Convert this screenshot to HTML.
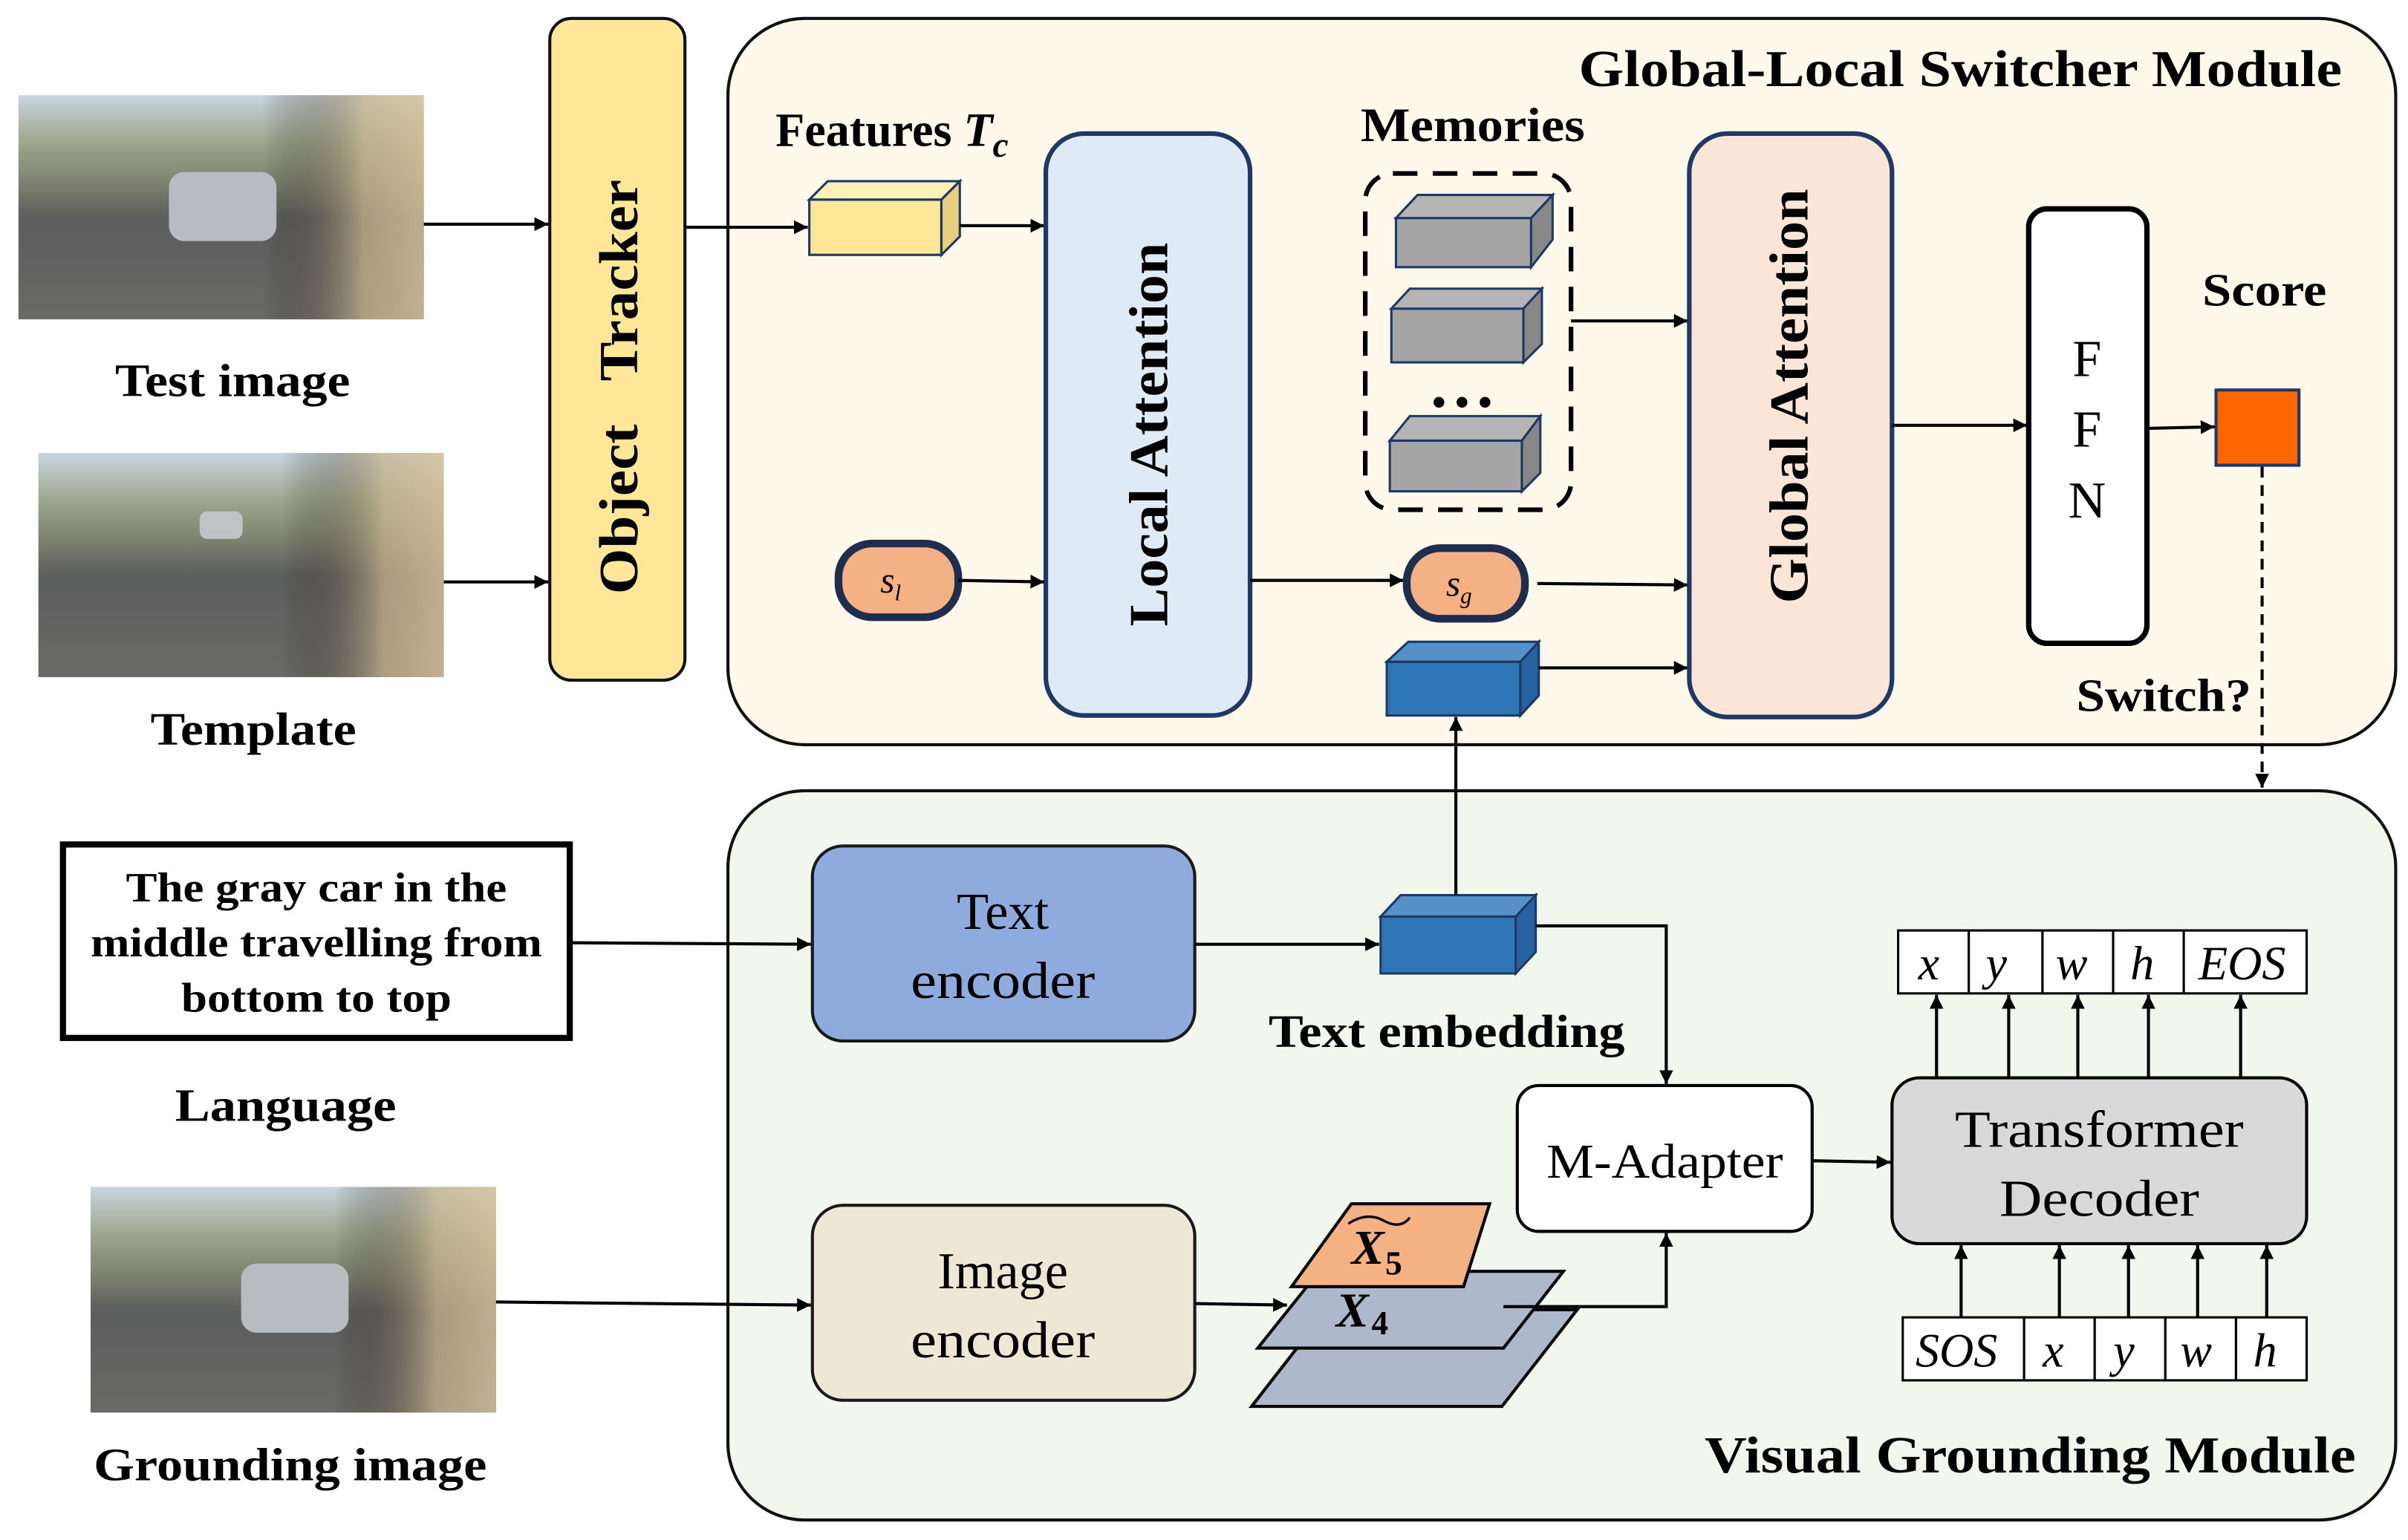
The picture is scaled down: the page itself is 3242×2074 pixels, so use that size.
<!DOCTYPE html>
<html><head><meta charset="utf-8"><style>
html,body{margin:0;padding:0;background:#fff}
svg{display:block}
text{font-family:"Liberation Serif",serif}
.b{font-weight:bold}
</style></head><body>
<svg width="3242" height="2074" viewBox="0 0 1568 1003" preserveAspectRatio="none" xmlns="http://www.w3.org/2000/svg">
<defs>
<marker id="a" viewBox="0 0 10 10" refX="10" refY="5" markerWidth="9" markerHeight="9" orient="auto" markerUnits="userSpaceOnUse"><path d="M0,0 L10,5 L0,10 z" fill="#000"/></marker>
<linearGradient id="ph" x1="0" y1="0" x2="0" y2="1">
<stop offset="0" stop-color="#c9d6de"/><stop offset="0.22" stop-color="#9aa58a"/><stop offset="0.4" stop-color="#7c7f6e"/><stop offset="0.55" stop-color="#5c5d5d"/><stop offset="1" stop-color="#6a6a68"/></linearGradient>
<linearGradient id="ph2" x1="0" y1="0" x2="1" y2="0">
<stop offset="0" stop-color="#000" stop-opacity="0"/><stop offset="0.6" stop-color="#000" stop-opacity="0"/><stop offset="0.85" stop-color="#c9b48e" stop-opacity="0.7"/><stop offset="1" stop-color="#d8c29a" stop-opacity="0.8"/></linearGradient>
</defs>
<rect width="1568" height="1003" fill="#fff"/>

<rect x="474" y="12" width="1086" height="473" rx="50" fill="#FFF9EC" stroke="#111" stroke-width="2"/>
<rect x="474" y="515" width="1086" height="475" rx="50" fill="#F2F7EE" stroke="#111" stroke-width="2"/>
<text x="1028" y="56" font-size="34" class="b" textLength="497" lengthAdjust="spacingAndGlyphs">Global-Local Switcher Module</text>
<text x="1110" y="959" font-size="34" class="b" textLength="424" lengthAdjust="spacingAndGlyphs">Visual Grounding Module</text>

<rect x="12" y="62" width="264" height="146" fill="url(#ph)"/><rect x="12" y="62" width="264" height="146" fill="url(#ph2)"/>
<rect x="110" y="112" width="70" height="45" rx="10" fill="#b8bcc0"/>
<rect x="25" y="295" width="264" height="146" fill="url(#ph)"/><rect x="25" y="295" width="264" height="146" fill="url(#ph2)"/>
<rect x="130" y="333" width="28" height="18" rx="5" fill="#c0c3c6"/>
<rect x="59" y="773" width="264" height="147" fill="url(#ph)"/><rect x="59" y="773" width="264" height="147" fill="url(#ph2)"/>
<rect x="157" y="823" width="70" height="45" rx="10" fill="#b8bcc0"/>

<text x="75" y="258" font-size="30" class="b" textLength="153" lengthAdjust="spacingAndGlyphs">Test image</text>
<text x="98" y="485" font-size="30" class="b" textLength="134" lengthAdjust="spacingAndGlyphs">Template</text>
<text x="114" y="730" font-size="30" class="b" textLength="144" lengthAdjust="spacingAndGlyphs">Language</text>
<text x="61" y="964" font-size="30" class="b" textLength="256" lengthAdjust="spacingAndGlyphs">Grounding image</text>

<rect x="358" y="12" width="88" height="431" rx="14" fill="#FFE699" stroke="#111" stroke-width="2"/>
<text transform="translate(415,387) rotate(-90)" font-size="36" class="b" textLength="270" lengthAdjust="spacingAndGlyphs" xml:space="preserve">Object   Tracker</text>
<line x1="276" y1="146" x2="357" y2="146" stroke="#000" stroke-width="2" marker-end="url(#a)"/>
<line x1="289" y1="379" x2="357" y2="379" stroke="#000" stroke-width="2" marker-end="url(#a)"/>
<line x1="446" y1="148" x2="526" y2="148" stroke="#000" stroke-width="2" marker-end="url(#a)"/>

<text x="505" y="95" font-size="31" class="b">Features <tspan font-style="italic">T</tspan><tspan font-style="italic" font-size="23" dy="7">c</tspan></text>
<g stroke="#1F3864" stroke-width="1.5">
<rect x="527" y="130" width="86" height="36" fill="#FFE699"/>
<path d="M527,130 L539,118 L625,118 L613,130z" fill="#FFEFB8"/>
<path d="M613,130 L625,118 L625,154 L613,166z" fill="#E8CF7E"/>
</g>
<line x1="625" y1="147" x2="680" y2="147" stroke="#000" stroke-width="2" marker-end="url(#a)"/>

<rect x="681" y="87" width="133" height="379" rx="25" fill="#DEEBF7" stroke="#1F3864" stroke-width="3"/>
<text transform="translate(760,408) rotate(-90)" font-size="36" class="b" textLength="250" lengthAdjust="spacingAndGlyphs">Local Attention</text>

<rect x="546" y="354" width="78" height="48" rx="22" fill="#F4B183" stroke="#1F2D4E" stroke-width="5"/>
<text x="580" y="386" font-size="24" font-style="italic" text-anchor="middle">s<tspan font-size="15" dy="5">l</tspan></text>
<line x1="624" y1="378" x2="680" y2="379" stroke="#000" stroke-width="2" marker-end="url(#a)"/>
<line x1="814" y1="378" x2="914" y2="378" stroke="#000" stroke-width="2" marker-end="url(#a)"/>

<text x="886" y="92" font-size="31" class="b" textLength="146" lengthAdjust="spacingAndGlyphs">Memories</text>
<rect x="889" y="113" width="134" height="219" rx="18" fill="none" stroke="#000" stroke-width="3" stroke-dasharray="16,10"/>
<g stroke="#1F3864" stroke-width="1.5">
<rect x="909" y="142" width="88" height="32" fill="#A5A5A5"/><path d="M909,142 L923,127 L1011,127 L997,142z" fill="#B5B5B5"/><path d="M997,142 L1011,127 L1011,156 L997,174z" fill="#888"/>
<rect x="906" y="201" width="86" height="35" fill="#A5A5A5"/>
<path d="M906,201 L918,188 L1004,188 L992,201z" fill="#B5B5B5"/><path d="M992,201 L1004,188 L1004,224 L992,236z" fill="#888"/>
<rect x="905" y="287" width="86" height="33" fill="#A5A5A5"/><path d="M905,287 L918,271 L1003,271 L991,287z" fill="#B5B5B5"/><path d="M991,287 L1003,271 L1003,308 L991,320z" fill="#888"/>
</g>
<circle cx="937" cy="262" r="3.5"/><circle cx="952" cy="262" r="3.5"/><circle cx="967" cy="262" r="3.5"/>
<line x1="1023" y1="209" x2="1099" y2="209" stroke="#000" stroke-width="2" marker-end="url(#a)"/>

<rect x="916" y="357" width="77" height="46" rx="22" fill="#F4B183" stroke="#1F2D4E" stroke-width="5"/>
<text x="950" y="388" font-size="24" font-style="italic" text-anchor="middle">s<tspan font-size="15" dy="5">g</tspan></text>
<line x1="1001" y1="380" x2="1099" y2="381" stroke="#000" stroke-width="2" marker-end="url(#a)"/>

<g stroke="#1F3864" stroke-width="1.5">
<rect x="903" y="431" width="87" height="35" fill="#2E75B6"/><path d="M903,431 L917,418 L1002,418 L990,431z" fill="#5590C8"/><path d="M990,431 L1002,418 L1002,453 L990,466z" fill="#2662A0"/>
</g>
<line x1="1002" y1="435" x2="1099" y2="435" stroke="#000" stroke-width="2" marker-end="url(#a)"/>

<rect x="1100" y="87" width="132" height="380" rx="25" fill="#FBE5D6" stroke="#1F3864" stroke-width="3"/>
<text transform="translate(1177,393) rotate(-90)" font-size="36" class="b" textLength="270" lengthAdjust="spacingAndGlyphs">Global Attention</text>
<line x1="1232" y1="277" x2="1320" y2="277" stroke="#000" stroke-width="2" marker-end="url(#a)"/>

<rect x="1321" y="136" width="77" height="283" rx="12" fill="#fff" stroke="#000" stroke-width="3.5"/>
<text x="1359" y="245" font-size="34" text-anchor="middle">F</text>
<text x="1359" y="291" font-size="34" text-anchor="middle">F</text>
<text x="1359" y="337" font-size="34" text-anchor="middle">N</text>
<line x1="1398" y1="279" x2="1442" y2="278" stroke="#000" stroke-width="2" marker-end="url(#a)"/>
<text x="1434" y="199" font-size="30" class="b" textLength="81" lengthAdjust="spacingAndGlyphs">Score</text>
<rect x="1443" y="254" width="54" height="49" fill="#FF6600" stroke="#1F3864" stroke-width="2"/>
<text x="1352" y="463" font-size="30" class="b" textLength="114" lengthAdjust="spacingAndGlyphs">Switch?</text>
<line x1="1473" y1="304" x2="1473" y2="513" stroke="#000" stroke-width="2" stroke-dasharray="7,5" marker-end="url(#a)"/>

<rect x="41" y="550" width="330" height="126" fill="#fff" stroke="#000" stroke-width="4"/>
<text x="82" y="587" font-size="27" class="b" textLength="248" lengthAdjust="spacingAndGlyphs">The gray car in the</text>
<text x="59" y="623" font-size="27" class="b" textLength="294" lengthAdjust="spacingAndGlyphs">middle travelling from</text>
<text x="118" y="659" font-size="27" class="b" textLength="176" lengthAdjust="spacingAndGlyphs">bottom to top</text>
<line x1="371" y1="614" x2="528" y2="615" stroke="#000" stroke-width="2" marker-end="url(#a)"/>

<rect x="529" y="551" width="249" height="127" rx="20" fill="#8FAADC" stroke="#1a1a1a" stroke-width="2"/>
<text x="653" y="605" font-size="34" text-anchor="middle">Text</text>
<text x="653" y="650" font-size="34" text-anchor="middle" textLength="120" lengthAdjust="spacingAndGlyphs">encoder</text>
<line x1="778" y1="615" x2="898" y2="615" stroke="#000" stroke-width="2" marker-end="url(#a)"/>

<g stroke="#1F3864" stroke-width="1.5">
<rect x="899" y="597" width="88" height="37" fill="#2E75B6"/><path d="M899,597 L912,583 L1000,583 L987,597z" fill="#5590C8"/><path d="M987,597 L1000,583 L1000,620 L987,634z" fill="#2662A0"/>
</g>
<text x="826" y="682" font-size="30" class="b" textLength="232" lengthAdjust="spacingAndGlyphs">Text embedding</text>
<line x1="948" y1="583" x2="948" y2="467" stroke="#000" stroke-width="2" marker-end="url(#a)"/>
<polyline points="1000,603 1085,603 1085,706" fill="none" stroke="#000" stroke-width="2" marker-end="url(#a)"/>

<rect x="529" y="785" width="249" height="127" rx="20" fill="#EDE7D6" stroke="#1a1a1a" stroke-width="2"/>
<text x="653" y="839" font-size="34" text-anchor="middle">Image</text>
<text x="653" y="884" font-size="34" text-anchor="middle" textLength="120" lengthAdjust="spacingAndGlyphs">encoder</text>
<line x1="323" y1="848" x2="528" y2="850" stroke="#000" stroke-width="2" marker-end="url(#a)"/>
<line x1="778" y1="849" x2="838" y2="850" stroke="#000" stroke-width="2" marker-end="url(#a)"/>

<g stroke="#000" stroke-width="2">
<polygon points="815,916 978,916 1027,853 864,853" fill="#ADB9CA"/>
<polygon points="819,878 979,878 1018,828 859,828" fill="#ADB9CA"/>
<polygon points="841,838 953,838 970,784 880,784" fill="#F4B183"/>
</g>
<polygon points="841,838 953,838 970,784 880,784" fill="#F4B183" stroke="#000" stroke-width="2" transform="translate(0,0)" opacity="0"/>
<polygon points="841,838 952,838 999,784 883,784" fill="#F4B183" stroke="#000" stroke-width="2" transform="translate(-30,0)" opacity="0"/>
<text x="880" y="823" font-size="32" font-style="italic" class="b">X</text>
<text x="902" y="830" font-size="22" class="b">5</text>
<path d="M878,797 Q890,789 901,795 T918,793" fill="none" stroke="#000" stroke-width="1.6"/>
<text x="870" y="864" font-size="32" font-style="italic" class="b">X</text>
<text x="893" y="869" font-size="22" class="b">4</text>
<polyline points="979,851 1085,851 1085,803" fill="none" stroke="#000" stroke-width="2" marker-end="url(#a)"/>

<rect x="988" y="707" width="192" height="95" rx="14" fill="#fff" stroke="#000" stroke-width="2"/>
<text x="1084" y="767" font-size="32" text-anchor="middle" textLength="154" lengthAdjust="spacingAndGlyphs">M-Adapter</text>
<line x1="1180" y1="756" x2="1231" y2="757" stroke="#000" stroke-width="2" marker-end="url(#a)"/>

<rect x="1232" y="702" width="270" height="108" rx="18" fill="#D9D9D9" stroke="#000" stroke-width="2"/>
<text x="1367" y="747" font-size="34" text-anchor="middle" textLength="188" lengthAdjust="spacingAndGlyphs">Transformer</text>
<text x="1367" y="792" font-size="34" text-anchor="middle" textLength="130" lengthAdjust="spacingAndGlyphs">Decoder</text>

<g stroke="#000" stroke-width="1.5" fill="#fff">
<rect x="1236" y="606" width="46" height="41"/><rect x="1282" y="606" width="48" height="41"/><rect x="1330" y="606" width="46" height="41"/><rect x="1376" y="606" width="46" height="41"/><rect x="1422" y="606" width="80" height="41"/>
<rect x="1239" y="858" width="79" height="41"/><rect x="1318" y="858" width="46" height="41"/><rect x="1364" y="858" width="46" height="41"/><rect x="1410" y="858" width="46" height="41"/><rect x="1456" y="858" width="46" height="41"/>
</g>
<g font-size="31" font-style="italic" text-anchor="middle">
<text x="1256" y="638">x</text><text x="1300" y="638">y</text><text x="1349" y="638">w</text><text x="1395" y="638">h</text><text x="1460" y="638">EOS</text>
<text x="1274" y="890">SOS</text><text x="1337" y="890">x</text><text x="1383" y="890">y</text><text x="1430" y="890">w</text><text x="1475" y="890">h</text>
</g>
<g stroke="#000" stroke-width="2" marker-end="url(#a)">
<line x1="1261" y1="702" x2="1261" y2="648"/><line x1="1308" y1="702" x2="1308" y2="648"/><line x1="1353" y1="702" x2="1353" y2="648"/><line x1="1399" y1="702" x2="1399" y2="648"/><line x1="1459" y1="702" x2="1459" y2="648"/>
<line x1="1277" y1="858" x2="1277" y2="811"/><line x1="1341" y1="858" x2="1341" y2="811"/><line x1="1386" y1="858" x2="1386" y2="811"/><line x1="1431" y1="858" x2="1431" y2="811"/><line x1="1476" y1="858" x2="1476" y2="811"/>
</g>
</svg>
</body></html>
